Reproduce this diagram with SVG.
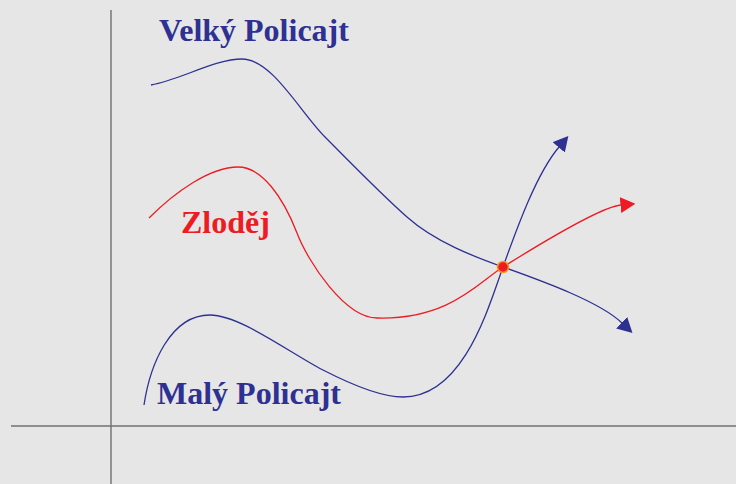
<svg xmlns="http://www.w3.org/2000/svg" width="736" height="484" viewBox="0 0 736 484">
<style>
.axis{stroke:#707070;stroke-width:1.4;fill:none}
.blue{stroke:#2e3192;stroke-width:1.3;fill:none}
.red{stroke:#ed1c24;stroke-width:1.3;fill:none}
.lbl{font-family:"Liberation Serif","Times New Roman",serif;font-weight:bold;font-size:32px}
</style>
<defs>
<marker id="ab" markerUnits="userSpaceOnUse" viewBox="0 0 15 16" markerWidth="15" markerHeight="16" refX="0.5" refY="8" orient="auto"><path d="M0,0 L15,8 L0,16 z" fill="#2e3192"/></marker>
<marker id="ar" markerUnits="userSpaceOnUse" viewBox="0 0 15 16" markerWidth="15" markerHeight="16" refX="0.5" refY="8" orient="auto"><path d="M0,0 L15,8 L0,16 z" fill="#ed1c24"/></marker>
</defs>
<rect width="736" height="484" fill="#e6e6e6"/>
<g id="axes">
<line class="axis" x1="111" y1="10" x2="111" y2="484"/>
<line class="axis" x1="11" y1="426" x2="736" y2="426"/>
</g>
<g id="connectors">
<path id="velky-curve" class="blue" marker-end="url(#ab)" d="M151,85 C180,80 215,59 242,59 C272,59 300,112 325,137 C350,162 380,193 407,217 C435,242 475,257 503,267 C545,282 600,302 622,323"/>
<path id="zlodej-curve" class="red" marker-end="url(#ar)" d="M149,218 C175,192 210,167 238,167 C262,167 283,197 297,233 C308,262 345,318 377,318 C450,320 480,281 503,267 C535,247 600,207 621,205"/>
<path id="maly-curve" class="blue" marker-end="url(#ab)" d="M144,405 C150,365 170,315 210,315 C240,315 290,353 323,370 C356,387 385,397 403,397 C463,397 488,309 503,267 C518,225 537,173 559,147"/>
</g>
<g id="intersection">
<circle cx="503" cy="267" r="5.5" fill="#ed1c24" stroke="#f7941d" stroke-width="1.5"/>
</g>
<g id="velky-policajt">
<text class="lbl" x="159" y="41" fill="#2e3192">Velký Policajt</text>
</g>
<g id="zlodej">
<text class="lbl" x="181" y="233" fill="#ed1c24">Zloděj</text>
</g>
<g id="maly-policajt">
<text class="lbl" x="157" y="404" fill="#2e3192">Malý Policajt</text>
</g>
</svg>
